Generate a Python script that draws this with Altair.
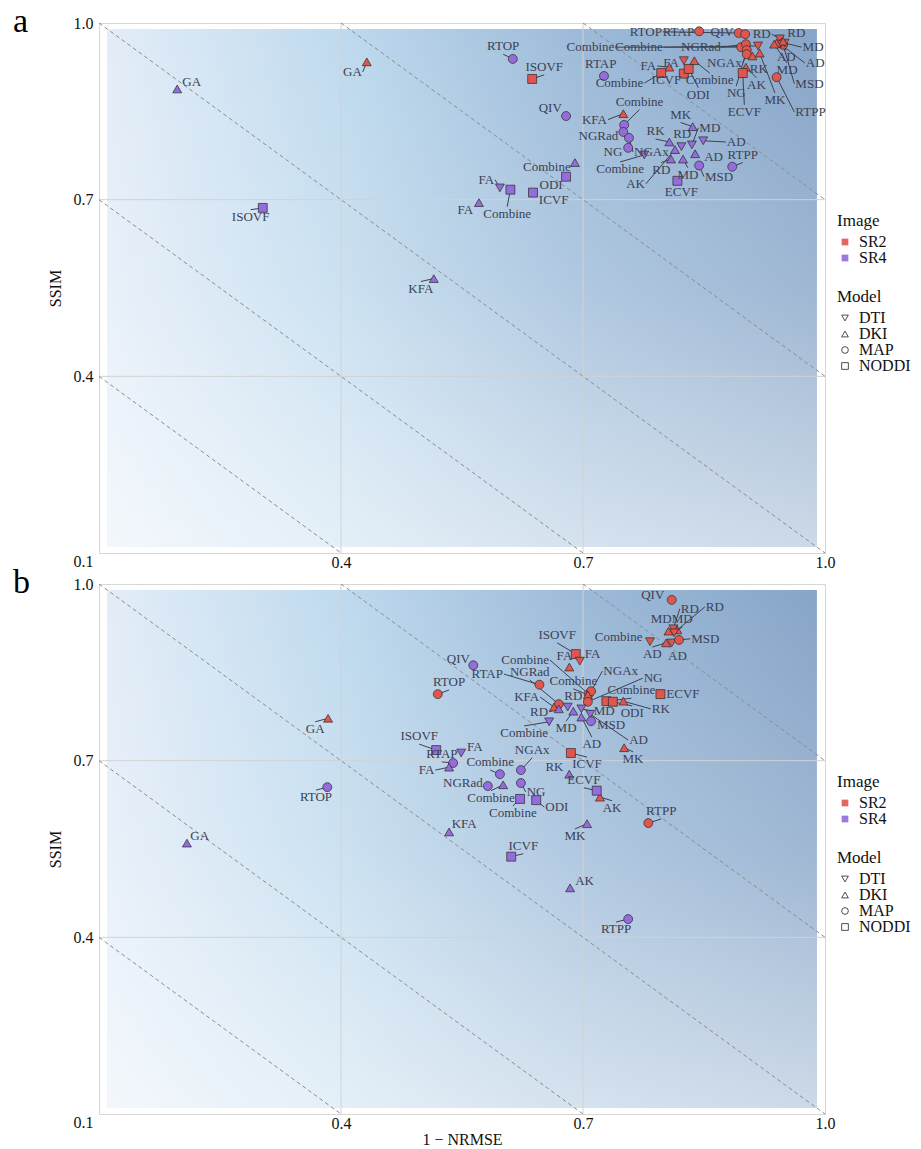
import altair as alt
import pandas as pd
import math

SERIF = "Liberation Serif"

# ---------------- data: panel a ----------------
a_sr4_name = ["FA", "MD", "AD", "RD", "Combine",
              "FA", "MD", "AD", "RD", "MK", "AK", "RK", "KFA", "GA", "Combine",
              "RTOP", "RTAP", "RTPP", "MSD", "QIV", "Combine", "NGRad", "NGAx", "NG",
              "ICVF", "ODI", "ISOVF", "ECVF", "Combine"]
a_sr4_model = ["DTI"] * 5 + ["DKI"] * 10 + ["MAP"] * 9 + ["NODDI"] * 5
a_sr4_x = [0.597, 0.835, 0.849, 0.822, 0.776,
           0.571, 0.824, 0.839, 0.809, 0.836, 0.814, 0.807, 0.515, 0.197, 0.690,
           0.613, 0.726, 0.885, 0.844, 0.679, 0.751, 0.750, 0.757, 0.756,
           0.638, 0.679, 0.303, 0.817, 0.610]
a_sr4_y = [0.720, 0.793, 0.800, 0.790, 0.776,
           0.695, 0.769, 0.778, 0.769, 0.824, 0.785, 0.798, 0.566, 0.888, 0.763,
           0.939, 0.910, 0.756, 0.758, 0.842, 0.827, 0.815, 0.805, 0.788,
           0.712, 0.739, 0.686, 0.732, 0.717]
a_sr4_lx = [0.591, 0.843, 0.877, 0.823, 0.746,
            0.565, 0.830, 0.849, 0.797, 0.821, 0.778, 0.790, 0.499, 0.202, 0.686,
            0.601, 0.722, 0.898, 0.850, 0.675, 0.770, 0.745, 0.762, 0.750,
            0.644, 0.676, 0.288, 0.822, 0.606]
a_sr4_ly = [0.734, 0.822, 0.798, 0.798, 0.764,
            0.683, 0.754, 0.773, 0.763, 0.831, 0.727, 0.803, 0.561, 0.900, 0.756,
            0.947, 0.917, 0.763, 0.739, 0.856, 0.853, 0.808, 0.781, 0.781,
            0.700, 0.725, 0.683, 0.725, 0.688]
a_sr4_side = ["l", "r", "r", "t", "b",
              "l", "b", "r", "b", "t", "l", "t", "b", "r", "l",
              "t", "t", "t", "r", "l", "t", "l", "r", "l",
              "r", "l", "b", "b", "b"]

a_sr2_name = ["RTOP", "RTAP", "QIV", "Combine", "NGRad", "NG", "NGAx", "MSD", "RTPP",
              "FA", "Combine", "RD", "MD", "AD",
              "FA", "Combine", "GA", "KFA", "MK", "RK", "AK", "RD", "AD", "MD",
              "ICVF", "ODI", "Combine", "ISOVF", "ECVF"]
a_sr2_model = ["MAP"] * 9 + ["DTI"] * 5 + ["DKI"] * 10 + ["NODDI"] * 5
a_sr2_x = [0.893, 0.844, 0.901, 0.896, 0.902, 0.903, 0.903, 0.948, 0.940,
           0.825, 0.917, 0.944, 0.950, 0.945,
           0.807, 0.838, 0.432, 0.750, 0.919, 0.910, 0.902, 0.948, 0.940, 0.937,
           0.825, 0.831, 0.797, 0.637, 0.898]
a_sr2_y = [0.983, 0.986, 0.981, 0.959, 0.964, 0.954, 0.947, 0.963, 0.908,
           0.936, 0.961, 0.973, 0.966, 0.964,
           0.925, 0.936, 0.934, 0.846, 0.949, 0.944, 0.925, 0.969, 0.966, 0.964,
           0.914, 0.922, 0.915, 0.905, 0.915]
a_sr2_lx = [0.799, 0.839, 0.888, 0.740, 0.872, 0.890, 0.898, 0.962, 0.962,
            0.820, 0.800, 0.934, 0.971, 0.975,
            0.792, 0.857, 0.427, 0.731, 0.938, 0.918, 0.915, 0.952, 0.952, 0.953,
            0.823, 0.843, 0.776, 0.652, 0.900]
a_sr2_ly = [0.985, 0.985, 0.985, 0.959, 0.959, 0.893, 0.932, 0.897, 0.849,
            0.932, 0.959, 0.981, 0.959, 0.932,
            0.927, 0.915, 0.917, 0.836, 0.881, 0.934, 0.907, 0.983, 0.954, 0.932,
            0.903, 0.890, 0.898, 0.912, 0.861]
a_sr2_side = ["l", "l", "l", "l", "l", "b", "l", "r", "r",
              "l", "l", "l", "r", "r",
              "l", "b", "l", "l", "b", "b", "b", "r", "b", "b",
              "l", "b", "l", "t", "b"]

# ---------------- data: panel b ----------------
b_sr2_name = ["QIV", "RD", "RD", "MD", "MD", "AD", "AD", "MSD", "Combine",
              "ISOVF", "FA", "FA", "Combine", "NGAx", "Combine", "NG", "Combine",
              "ECVF", "ODI", "RK", "ICVF", "MK", "AK", "RTPP", "GA", "RTOP", "RTAP",
              "NGRad", "KFA"]
b_sr2_model = ["MAP", "DTI", "DKI", "DTI", "DKI", "DKI", "DTI", "MAP", "DTI",
               "NODDI", "DTI", "DKI", "MAP", "MAP", "DKI", "MAP", "NODDI",
               "NODDI", "NODDI", "DKI", "NODDI", "DKI", "DKI", "MAP", "DKI", "MAP", "MAP",
               "MAP", "DKI"]
b_sr2_x = [0.810, 0.812, 0.817, 0.813, 0.806, 0.803, 0.810, 0.819, 0.783,
           0.691, 0.696, 0.683, 0.707, 0.710, 0.706, 0.706, 0.729,
           0.796, 0.737, 0.750, 0.685, 0.751, 0.721, 0.781, 0.384, 0.520, 0.646,
           0.670, 0.664]
b_sr2_y = [0.973, 0.924, 0.922, 0.917, 0.920, 0.900, 0.900, 0.905, 0.902,
           0.881, 0.869, 0.859, 0.813, 0.818, 0.812, 0.800, 0.801,
           0.813, 0.800, 0.801, 0.713, 0.722, 0.638, 0.594, 0.772, 0.813, 0.829,
           0.796, 0.791]
b_sr2_lx = [0.802, 0.820, 0.851, 0.823, 0.797, 0.786, 0.817, 0.833, 0.775,
            0.668, 0.701, 0.677, 0.659, 0.724, 0.688, 0.774, 0.760,
            0.802, 0.761, 0.784, 0.705, 0.762, 0.736, 0.797, 0.368, 0.534, 0.602,
            0.634, 0.647]
b_sr2_ly = [0.981, 0.958, 0.961, 0.927, 0.927, 0.893, 0.890, 0.907, 0.910,
            0.900, 0.881, 0.864, 0.871, 0.852, 0.822, 0.840, 0.806,
            0.813, 0.793, 0.788, 0.706, 0.715, 0.632, 0.601, 0.766, 0.820, 0.847,
            0.837, 0.808]
b_sr2_side = ["l", "r", "r", "t", "t", "b", "b", "r", "l",
              "t", "r", "t", "l", "r", "t", "r", "t",
              "r", "b", "r", "b", "b", "b", "t", "b", "t", "l",
              "t", "l"]

b_sr4_name = ["RD", "RD", "MD", "MD", "AD", "AD", "MSD", "Combine",
              "ISOVF", "FA", "RTAP", "FA", "NGRad", "Combine", "Combine", "NGAx", "NG",
              "Combine", "ODI", "RK", "ECVF", "MK", "KFA", "ICVF", "AK", "RTPP",
              "RTOP", "GA", "QIV"]
b_sr4_model = ["DTI", "DKI", "DTI", "DKI", "DKI", "DTI", "MAP", "DTI",
               "NODDI", "DTI", "MAP", "DKI", "MAP", "MAP", "DKI", "MAP", "MAP",
               "NODDI", "NODDI", "DKI", "NODDI", "DKI", "DKI", "NODDI", "DKI", "MAP",
               "MAP", "DKI", "MAP"]
b_sr4_x = [0.681, 0.670, 0.698, 0.688, 0.698, 0.709, 0.710, 0.658,
           0.518, 0.549, 0.539, 0.534, 0.582, 0.597, 0.601, 0.623, 0.623,
           0.622, 0.642, 0.683, 0.717, 0.705, 0.534, 0.611, 0.684, 0.756,
           0.383, 0.209, 0.564]
b_sr4_y = [0.791, 0.788, 0.788, 0.784, 0.774, 0.779, 0.767, 0.766,
           0.718, 0.713, 0.696, 0.689, 0.657, 0.677, 0.659, 0.684, 0.662,
           0.635, 0.633, 0.677, 0.649, 0.593, 0.579, 0.537, 0.484, 0.431,
           0.655, 0.560, 0.862]
b_sr4_lx = [0.688, 0.658, 0.712, 0.679, 0.711, 0.756, 0.716, 0.627,
            0.497, 0.555, 0.525, 0.517, 0.577, 0.585, 0.586, 0.637, 0.629,
            0.613, 0.652, 0.677, 0.701, 0.690, 0.536, 0.626, 0.689, 0.741,
            0.369, 0.212, 0.561]
b_sr4_ly = [0.796, 0.783, 0.784, 0.767, 0.740, 0.735, 0.761, 0.759,
            0.728, 0.723, 0.698, 0.684, 0.662, 0.684, 0.649, 0.705, 0.647,
            0.623, 0.621, 0.689, 0.654, 0.584, 0.593, 0.542, 0.496, 0.426,
            0.650, 0.572, 0.873]
b_sr4_side = ["t", "l", "r", "b", "b", "r", "r", "b",
              "t", "r", "t", "l", "l", "t", "b", "t", "r",
              "b", "r", "l", "t", "b", "r", "t", "r", "b",
              "b", "r", "l"]

# axis / guide values
tick_x = [0.4, 0.7, 1.0]
tick_y = [0.1, 0.4, 0.7, 1.0]
grid_vals = [0.4, 0.7]
diag_sums = [0.5, 0.8, 1.1, 1.4, 1.7]
bg_extent = [0.11, 0.99]
images = ["SR2", "SR4"]
models = ["DTI", "DKI", "MAP", "NODDI"]

# ---------------- layout constants ----------------
W, H = 726, 530
DOM = [0.1, 1.0]
TEXT_COLOR = "#3b4152"


def build(name, model, img, x, y, lx, ly, side):
    return pd.DataFrame({"name": name, "model": model, "image": img, "x": x, "y": y,
                         "lx": lx, "ly": ly, "side": side})


df_a = pd.concat([build(a_sr2_name, a_sr2_model, "SR2", a_sr2_x, a_sr2_y, a_sr2_lx, a_sr2_ly, a_sr2_side),
                  build(a_sr4_name, a_sr4_model, "SR4", a_sr4_x, a_sr4_y, a_sr4_lx, a_sr4_ly, a_sr4_side)],
                 ignore_index=True)
df_b = pd.concat([build(b_sr2_name, b_sr2_model, "SR2", b_sr2_x, b_sr2_y, b_sr2_lx, b_sr2_ly, b_sr2_side),
                  build(b_sr4_name, b_sr4_model, "SR4", b_sr4_x, b_sr4_y, b_sr4_lx, b_sr4_ly, b_sr4_side)],
                 ignore_index=True)

diag = pd.DataFrame({"c": diag_sums})
diag["x1"] = diag["c"].apply(lambda c: max(DOM[0], c - DOM[1]))
diag["y1"] = diag["c"] - diag["x1"]
diag["x2"] = diag["c"].apply(lambda c: min(DOM[1], c - DOM[0]))
diag["y2"] = diag["c"] - diag["x2"]

grid_df = pd.DataFrame({"v": grid_vals})
bg_df = pd.DataFrame({"x0": [bg_extent[0]], "x1": [bg_extent[1]],
                      "y0": [bg_extent[0]], "y1": [bg_extent[1]]})

SCALE_X = alt.Scale(domain=DOM, nice=False, zero=False)
SCALE_Y = alt.Scale(domain=DOM, nice=False, zero=False)

h_grad = alt.Gradient(gradient="linear", x1=0, y1=0, x2=1, y2=0, stops=[
    alt.GradientStop(color="#e3edf8", offset=0),
    alt.GradientStop(color="#bfdaee", offset=0.33),
    alt.GradientStop(color="#9dbbd9", offset=0.66),
    alt.GradientStop(color="#87a5c8", offset=1),
])
v_grad = alt.Gradient(gradient="linear", x1=0, y1=0, x2=0, y2=1, stops=[
    alt.GradientStop(color="rgba(255,255,255,0)", offset=0),
    alt.GradientStop(color="rgba(255,255,255,0.2)", offset=0.5),
    alt.GradientStop(color="rgba(255,255,255,0.58)", offset=1),
])


def panel(df, letter, xtitle):
    xaxis = alt.Axis(values=tick_x, format=".1f", title=xtitle, labelFlush=False,
                     labelOverlap=False, labelPadding=1, titlePadding=0)
    yaxis = alt.Axis(values=tick_y, format=".1f", title="SSIM", labelFlush=False,
                     labelOverlap=False, labelPadding=6, titlePadding=10,
                     labelBaseline={"condition": {"test": "datum.value < 0.15", "value": "top"},
                                    "value": "middle"})

    def X(f):
        return alt.X(f, type="quantitative", scale=SCALE_X, axis=xaxis)

    def Y(f):
        return alt.Y(f, type="quantitative", scale=SCALE_Y, axis=yaxis)

    d = df.copy()
    d["dist"] = ((((d["lx"] - d["x"]) / 0.9 * W) ** 2 + ((d["ly"] - d["y"]) / 0.9 * H) ** 2)
                 .apply(math.sqrt))
    lead = d[d["dist"] > 9]

    bg = alt.Chart(bg_df).mark_rect(fill=h_grad).encode(
        x=X("x0"), x2="x1", y=Y("y0"), y2="y1")
    bg2 = alt.Chart(bg_df).mark_rect(fill=v_grad).encode(
        x=X("x0"), x2="x1", y=Y("y0"), y2="y1")
    gx = alt.Chart(grid_df).mark_rule(color="#d2d2d2", strokeWidth=1).encode(x=X("v"))
    gy = alt.Chart(grid_df).mark_rule(color="#d2d2d2", strokeWidth=1).encode(y=Y("v"))
    dl = alt.Chart(diag).mark_rule(color="#8c8c8c", strokeWidth=1, strokeDash=[4, 3]).encode(
        x=X("x1"), y=Y("y1"), x2="x2", y2="y2")
    leaders = alt.Chart(lead).mark_rule(color=TEXT_COLOR, strokeWidth=1).encode(
        x=X("x"), y=Y("y"), x2="lx", y2="ly")
    pts = alt.Chart(d).mark_point(filled=True, opacity=1, stroke="#2a2a2a", strokeWidth=0.7).encode(
        x=X("x"), y=Y("y"),
        color=alt.Color("image:N", scale=alt.Scale(domain=images, range=["#e0564f", "#946cdc"]),
                        legend=alt.Legend(title="Image", orient="none", legendX=738, legendY=190,
                                          symbolType="square", symbolSize=45, symbolStrokeWidth=0,
                                          symbolOpacity=0.9)),
        shape=alt.Shape("model:N", scale=alt.Scale(domain=models,
                                                   range=["triangle-down", "triangle-up", "circle", "square"]),
                        legend=alt.Legend(title="Model", orient="none", legendX=738, legendY=266,
                                          symbolSize=45, symbolFillColor="transparent",
                                          symbolStrokeColor="#222222", symbolStrokeWidth=0.8)),
        size=alt.Size("model:N", scale=alt.Scale(domain=models, range=[80, 80, 44, 38]), legend=None),
    )
    side_props = {"l": dict(align="right", baseline="middle", dx=-1),
                  "r": dict(align="left", baseline="middle", dx=1),
                  "t": dict(align="center", baseline="bottom", dy=-1),
                  "b": dict(align="center", baseline="top", dy=1)}
    texts = []
    for s, props in side_props.items():
        texts.append(alt.Chart(d[d["side"] == s]).mark_text(
            font=SERIF, fontSize=13, color=TEXT_COLOR, **props).encode(
            x=X("lx"), y=Y("ly"), text="name:N"))
    lab = alt.Chart(pd.DataFrame({"t": [letter]})).mark_text(
        font=SERIF, fontSize=34, align="left", baseline="alphabetic", color="#000000").encode(
        text="t:N", x=alt.value(-86), y=alt.value(9))
    return alt.layer(bg, bg2, gx, gy, dl, leaders, pts, *texts, lab).properties(
        width=W, height=H).resolve_scale(color="independent", shape="independent")


pa = panel(df_a, "a", None)
pb = panel(df_b, "b", "1 \u2212 NRMSE")

chart = alt.vconcat(pa, pb, spacing=31, bounds="flush").resolve_scale(
    color="independent", shape="independent", size="independent"
).resolve_legend(color="independent", shape="independent", size="independent").properties(
    padding={"left": 12, "top": 4, "right": 0, "bottom": 0}
).configure_view(stroke="#d6d6d6", strokeWidth=1).configure_axis(
    labelFont=SERIF, titleFont=SERIF, labelFontSize=16, titleFontSize=16,
    titleFontWeight="normal", labelColor="#111111", titleColor="#111111",
    ticks=False, domain=False, grid=False
).configure_legend(
    titleFont=SERIF, labelFont=SERIF, titleFontSize=17, labelFontSize=16,
    titleFontWeight="normal", labelColor="#111111", titleColor="#111111",
    rowPadding=0, titlePadding=4, labelOffset=6
)

chart.save("out.html", embed_options={"renderer": "svg", "actions": False})
